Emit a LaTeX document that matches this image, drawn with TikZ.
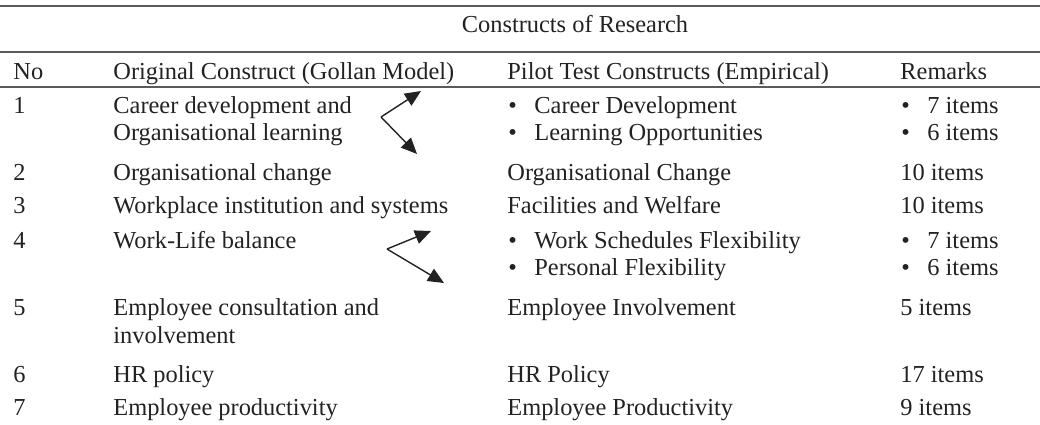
\documentclass[tikz,border=0pt]{standalone}
\usepackage{fontspec}
\setmainfont{Liberation Serif}
\usetikzlibrary{arrows.meta}
\definecolor{mgray}{HTML}{5A5A5A}
\definecolor{mtext}{HTML}{222222}
\tikzstyle{cell}=[anchor=base west, inner sep=0pt, text=mtext, font=\fontsize{12.2}{14}\selectfont]
\tikzstyle{rule}=[line width=0.75pt, draw=mgray]
\tikzstyle{l1}=[line width=0.7pt, draw=mtext, -{Triangle[length=8pt,width=7pt]}]

\begin{document}
\begin{tikzpicture}[x=0.5pt,y=-0.5pt]
    \useasboundingbox (0,0) rectangle (1040,424);
    \draw[rule] (0,6) -- (1040,6);
    \draw[rule] (0,52) -- (1040,52);
    \draw[rule] (0,87) -- (1040,87);

    \node[cell, anchor=base] (title) at (575,32) {Constructs of Research};
    \node[cell] (hno)  at (13,79)  {No};
    \node[cell] (horg) at (113,79) {Original Construct (Gollan Model)};
    \node[cell] (hpil) at (507,79) {Pilot Test Constructs (Empirical)};
    \node[cell] (hrem) at (900,79) {Remarks};

    % row 1
    \node[cell] (n1)  at (13,113)  {1};
    \node[cell] (o1a) at (113,113) {Career development and};
    \node[cell] (o1b) at (113,140) {Organisational learning};
    \path (508,113) node[cell] (pb1a) {\textbullet} -- +(26,0) node[cell] (p1a) {Career Development};
    \path (508,140) node[cell] (pb1b) {\textbullet} -- +(26,0) node[cell] (p1b) {Learning Opportunities};
    \path (901,113) node[cell] (rb1a) {\textbullet} -- +(26,0) node[cell] (r1a) {7 items};
    \path (901,140) node[cell] (rb1b) {\textbullet} -- +(26,0) node[cell] (r1b) {6 items};

    % rows 2 and 3
    \node[cell] (n2) at (13,180)  {2};
    \node[cell] (o2) at (113,180) {Organisational change};
    \node[cell] (p2) at (507,180) {Organisational Change};
    \node[cell] (r2) at (900,180) {10 items};
    \node[cell] (n3) at (13,213)  {3};
    \node[cell] (o3) at (113,213) {Workplace institution and systems};
    \node[cell] (p3) at (507,213) {Facilities and Welfare};
    \node[cell] (r3) at (900,213) {10 items};

    % row 4
    \node[cell] (n4) at (13,248)  {4};
    \node[cell] (o4) at (113,248) {Work-Life balance};
    \path (508,248) node[cell] (pb4a) {\textbullet} -- +(26,0) node[cell] (p4a) {Work Schedules Flexibility};
    \path (508,275) node[cell] (pb4b) {\textbullet} -- +(26,0) node[cell] (p4b) {Personal Flexibility};
    \path (901,248) node[cell] (rb4a) {\textbullet} -- +(26,0) node[cell] (r4a) {7 items};
    \path (901,275) node[cell] (rb4b) {\textbullet} -- +(26,0) node[cell] (r4b) {6 items};

    % rows 5 to 7
    \node[cell] (n5)  at (13,315)  {5};
    \node[cell] (o5a) at (113,315) {Employee consultation and};
    \node[cell] (o5b) at (113,343) {involvement};
    \node[cell] (p5)  at (507,315) {Employee Involvement};
    \node[cell] (r5)  at (900,315) {5 items};
    \node[cell] (n6) at (13,382)  {6};
    \node[cell] (o6) at (113,382) {HR policy};
    \node[cell] (p6) at (507,382) {HR Policy};
    \node[cell] (r6) at (900,382) {17 items};
    \node[cell] (n7) at (13,415)  {7};
    \node[cell] (o7) at (113,415) {Employee productivity};
    \node[cell] (p7) at (507,415) {Employee Productivity};
    \node[cell] (r7) at (900,415) {9 items};

    % split arrows
    \coordinate (v1)  at (381,117);
    \coordinate (t1a) at (421,91);
    \coordinate (t1b) at (417,154);
    \coordinate (v2)  at (387,249);
    \coordinate (t2a) at (431,231);
    \coordinate (t2b) at (444,283);
    \draw[l1] (v1) -- (t1a);
    \draw[l1] (v1) -- (t1b);
    \draw[l1] (v2) -- (t2a);
    \draw[l1] (v2) -- (t2b);
\end{tikzpicture}
\end{document}
